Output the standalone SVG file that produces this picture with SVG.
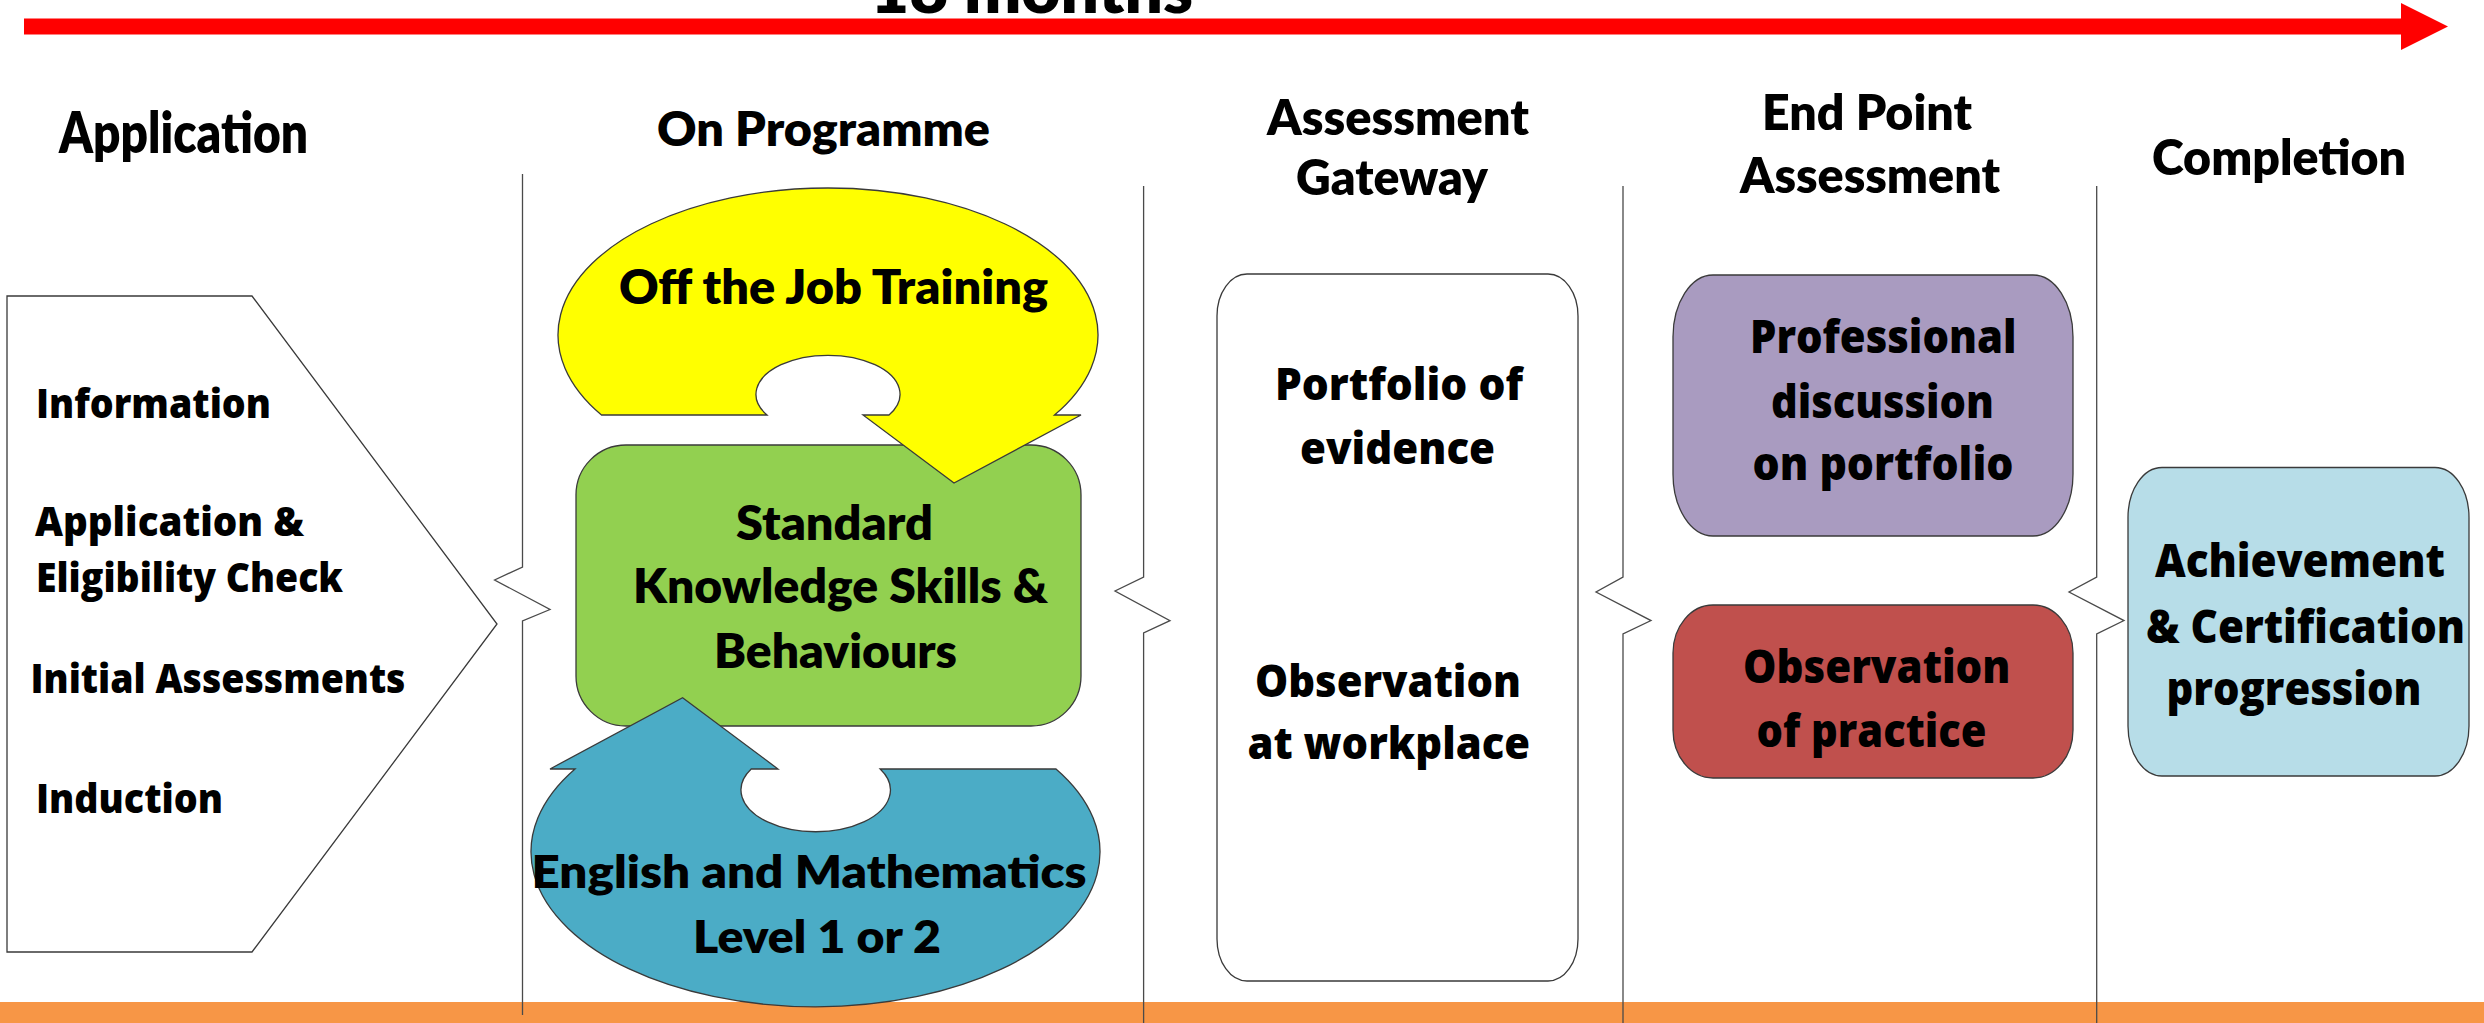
<svg xmlns="http://www.w3.org/2000/svg" width="2484" height="1023" viewBox="0 0 2484 1023">
<style>
.n{font-family:Lato,"Liberation Sans",sans-serif;font-weight:800;fill:#000}
.w{font-family:"Open Sans","DejaVu Sans",sans-serif;font-weight:800;fill:#000}
.sh{stroke:#3a3a3a;stroke-width:1.3}
.div{fill:none;stroke:#4a4a4a;stroke-width:1.3}
</style>
<rect width="2484" height="1023" fill="#fff"/>
<g id="timeline">
<polygon points="24,18.5 2401,18.5 2401,3 2448,26.5 2401,50 2401,34.5 24,34.5" fill="#ff0000"/>
<text class="n" x="870" y="13" font-size="66" textLength="323" lengthAdjust="spacingAndGlyphs">18 months</text>
</g>
<rect id="footer" x="0" y="1002" width="2484" height="21" fill="#f79646"/>
<g id="connectors">
<polyline class="div" points="522.5,174 522.5,567 494.6,580 550,609.5 522.5,621 522.5,1015"/>
<polyline class="div" points="1143.6,186 1143.6,577 1115,591 1170,620.6 1143.6,633 1143.6,1023"/>
<polyline class="div" points="1623,186 1623,577 1596,592 1651,620.6 1623,634 1623,1023"/>
<polyline class="div" points="2096.7,186 2096.7,577 2069,592 2124,620.6 2096.7,634 2096.7,1023" stroke="#777" stroke-width="2"/>
</g>
<g id="headers">
<text class="n" x="59" y="153" font-size="56" textLength="249" lengthAdjust="spacingAndGlyphs">Application</text>
<text class="n" x="657" y="146" font-size="47" textLength="333" lengthAdjust="spacingAndGlyphs">On Programme</text>
<text class="n" x="1267" y="135" font-size="50" textLength="262" lengthAdjust="spacingAndGlyphs">Assessment</text>
<text class="n" x="1296" y="195" font-size="50" textLength="192" lengthAdjust="spacingAndGlyphs">Gateway</text>
<text class="n" x="1762" y="130" font-size="50" textLength="210" lengthAdjust="spacingAndGlyphs">End Point</text>
<text class="n" x="1740" y="193" font-size="50" textLength="260" lengthAdjust="spacingAndGlyphs">Assessment</text>
<text class="n" x="2152" y="175" font-size="50" textLength="254" lengthAdjust="spacingAndGlyphs">Completion</text>
</g>
<g id="application">
<polygon class="sh" points="7,296 252,296 497,624 252,952 7,952" fill="#fff" stroke-width="1.1"/>
<text class="w" x="36" y="418" font-size="40" textLength="235" lengthAdjust="spacingAndGlyphs">Information</text>
<text class="w" x="35" y="536" font-size="40" textLength="269" lengthAdjust="spacingAndGlyphs">Application &amp;</text>
<text class="w" x="36" y="592" font-size="40" textLength="307" lengthAdjust="spacingAndGlyphs">Eligibility Check</text>
<text class="w" x="30.5" y="693" font-size="40" textLength="375" lengthAdjust="spacingAndGlyphs">Initial Assessments</text>
<text class="w" x="36" y="812.5" font-size="40" textLength="187" lengthAdjust="spacingAndGlyphs">Induction</text>
</g>
<g id="standard">
<rect class="sh" x="576" y="445" width="505" height="281" rx="50" ry="50" fill="#92d050"/>
<text class="n" x="736" y="540" font-size="47" textLength="197" lengthAdjust="spacingAndGlyphs">Standard</text>
<text class="n" x="633" y="603" font-size="47" textLength="415" lengthAdjust="spacingAndGlyphs">Knowledge Skills &amp;</text>
<text class="n" x="714" y="668" font-size="47" textLength="243" lengthAdjust="spacingAndGlyphs">Behaviours</text>
</g>
<g id="off-the-job">
<path class="sh" d="M601.5,415 A270,147 0 1,1 1054.5,415 L1081,415 L954,483 L863,415 L889,415 A72,39 0 1,0 767,415 Z" fill="#ffff00"/>
<text class="n" x="619" y="303.5" font-size="47" textLength="429" lengthAdjust="spacingAndGlyphs">Off the Job Training</text>
</g>
<g id="english-maths">
<path class="sh" d="M575,769 L550,769 L682.6,697.7 L778,769 L751.2,769 A74.7,41.7 0 1,0 880.2,769 L1056,769 A284.5,155 0 1,1 575,769 Z" fill="#4bacc6"/>
<text class="n" x="531.5" y="888" font-size="45" textLength="555" lengthAdjust="spacingAndGlyphs">English and Mathematics</text>
<text class="n" x="693" y="953" font-size="45" textLength="248" lengthAdjust="spacingAndGlyphs">Level 1 or 2</text>
</g>
<g id="gateway">
<rect class="sh" x="1217" y="274" width="361" height="707" rx="30" ry="42" fill="#fff" stroke-width="1.1"/>
<text class="w" x="1275" y="400" font-size="45" textLength="248" lengthAdjust="spacingAndGlyphs">Portfolio of</text>
<text class="w" x="1300" y="463.5" font-size="45" textLength="195" lengthAdjust="spacingAndGlyphs">evidence</text>
<text class="w" x="1255" y="696.5" font-size="45" textLength="266" lengthAdjust="spacingAndGlyphs">Observation</text>
<text class="w" x="1247.5" y="759" font-size="45" textLength="282.5" lengthAdjust="spacingAndGlyphs">at workplace</text>
</g>
<g id="professional-discussion">
<rect class="sh" x="1673" y="275" width="400" height="261" rx="40" ry="62" fill="#a99bc0"/>
<text class="w" x="1750" y="353" font-size="46" textLength="266.5" lengthAdjust="spacingAndGlyphs">Professional</text>
<text class="w" x="1771" y="418" font-size="46" textLength="223" lengthAdjust="spacingAndGlyphs">discussion</text>
<text class="w" x="1752.5" y="480" font-size="46" textLength="261" lengthAdjust="spacingAndGlyphs">on portfolio</text>
</g>
<g id="observation-practice">
<rect class="sh" x="1673" y="605" width="400" height="173" rx="40" ry="48" fill="#c0504d"/>
<text class="w" x="1743" y="682.5" font-size="46" textLength="267.5" lengthAdjust="spacingAndGlyphs">Observation</text>
<text class="w" x="1756.5" y="746.5" font-size="46" textLength="230" lengthAdjust="spacingAndGlyphs">of practice</text>
</g>
<g id="completion">
<rect class="sh" x="2128" y="467.5" width="341" height="308.5" rx="34" ry="50" fill="#b7dde8"/>
<text class="w" x="2155" y="577" font-size="46" textLength="290" lengthAdjust="spacingAndGlyphs">Achievement</text>
<text class="w" x="2146" y="643" font-size="46" textLength="319" lengthAdjust="spacingAndGlyphs">&amp; Certification</text>
<text class="w" x="2166.5" y="705" font-size="46" textLength="255" lengthAdjust="spacingAndGlyphs">progression</text>
</g>
</svg>
